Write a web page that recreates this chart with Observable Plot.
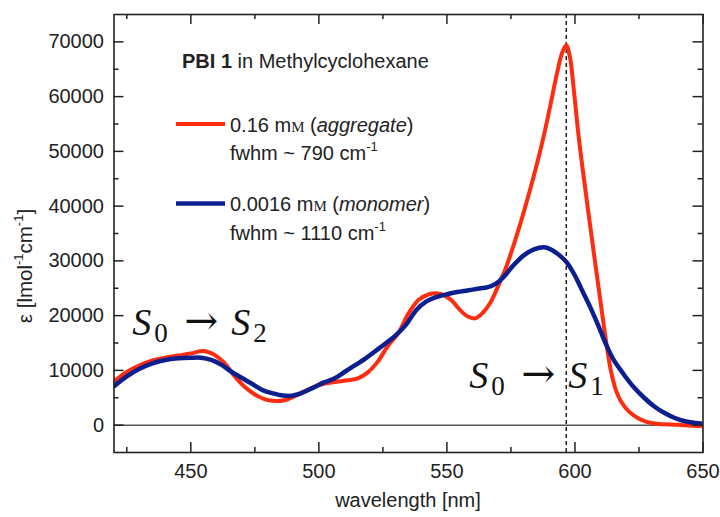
<!DOCTYPE html>
<html><head><meta charset="utf-8">
<script src="https://cdn.jsdelivr.net/npm/d3@7"></script>
<script src="https://cdn.jsdelivr.net/npm/@observablehq/plot@0.6"></script>
<style>
html,body{margin:0;padding:0;background:#fff;}
#chart{width:720px;height:517px;overflow:hidden;}
svg{display:block;}
</style></head><body><div id="chart"></div>
<script>
// ---- data ----
const aggWavelength = [420,425,430,435,440,445,450,455,459,463,467,471,475,479,483,487,491,495,500,505,510,515,519,523,527,531,535,539,543,546,549,552,555,558,561,564,567,570,573,576,579,582,585,588,591,593,595,596.6,598,599.5,601.5,604.5,607.5,610,612,614,616,618,621,624.5,628,632,640,650];
const aggEpsilon    = [8000,9700,10900,11800,12300,12700,13100,13550,12900,11400,9000,7000,5600,4700,4400,4600,5400,6300,7300,7800,8100,8500,9600,11600,14500,16800,20400,22900,23900,24100,23700,22700,21100,19900,19500,20500,22400,25400,28700,32800,37300,42200,47400,53200,59800,64300,68000,69400,67300,61500,52500,41500,31000,22500,15800,10000,6400,4300,2500,1300,600,250,50,-200];

const monWavelength = [420,425,430,435,440,445,450,454,458,462,466,470,474,478,482,486,490,494,498,502,506,510,514,518,522,526,530,534,538,542,546,550,554,558,562,566,569,572,576,580,584,588,591,594,597,600,603,606,609,612,615,619,623,627,631,635,639,643,647,650];
const monEpsilon    = [7100,8900,10300,11300,11900,12200,12300,12300,11900,11000,9700,8600,7500,6400,5800,5400,5400,6000,6900,7800,8500,9700,10900,12100,13500,14900,16400,18300,21000,22600,23400,23900,24300,24600,24900,25200,25800,27000,29200,31000,32100,32500,32000,31000,29600,27300,24400,21500,18300,14900,12000,9300,6900,5000,3400,2200,1300,700,400,250];

const s1Wavelength = [596.6];
const xMajorTicks = [450,500,550,600,650];
const xMinorTicks = [425,475,525,575,625];
const yMajorTicks = [0,10000,20000,30000,40000,50000,60000,70000];
const yMinorTicks = [5000,15000,25000,35000,45000,55000,65000];
const zeroLine = [0];

const seriesNames = ["aggregate","monomer"];
const labelS2 = {wavelength: 427.7, epsilon: 16300, upper: "2"};
const labelS1 = {wavelength: 559.3, epsilon: 6780, upper: "1"};

// ---- build ----
const agg = aggWavelength.map((w,i)=>({wavelength:w, epsilon:aggEpsilon[i], series:seriesNames[0]}));
const mon = monWavelength.map((w,i)=>({wavelength:w, epsilon:monEpsilon[i], series:seriesNames[1]}));

const W = 720, H = 517;
const mL = 113.5, mR = 17.5, mT = 14, mB = 65;
const innerW = W - mL - mR, innerH = H - mT - mB;
const FONT = "'Liberation Sans', Arial, Helvetica, sans-serif";
const RED = "#ff2d0f", BLUE = "#0c1f8e", INK = "#222";
const major = 10, minor = 5;

const plot = Plot.plot({
  width: W, height: H,
  marginLeft: mL, marginRight: mR, marginTop: mT, marginBottom: mB,
  style: {fontFamily: FONT, fontSize: "20px", color: INK, background: "#fff"},
  x: {domain: [420, 650], label: null},
  y: {domain: [-5000, 75000], label: null},
  marks: [
    Plot.ruleY(zeroLine, {stroke: "#555", strokeWidth: 1.5}),
    Plot.ruleX(s1Wavelength, {stroke: "#111", strokeWidth: 1.4, strokeDasharray: "4,3"}),
    Plot.line(agg, {x: "wavelength", y: "epsilon", stroke: RED, strokeWidth: 4, curve: "catmull-rom", clip: true}),
    Plot.line(mon, {x: "wavelength", y: "epsilon", stroke: BLUE, strokeWidth: 4.5, curve: "catmull-rom", clip: true}),
    // inward ticks, bottom & top
    Plot.ruleX(xMajorTicks, {stroke: INK, strokeWidth: 1.5, insetTop: innerH - major}),
    Plot.ruleX(xMinorTicks, {stroke: INK, strokeWidth: 1.5, insetTop: innerH - minor}),
    Plot.ruleX(xMajorTicks, {stroke: INK, strokeWidth: 1.5, insetBottom: innerH - major}),
    Plot.ruleX(xMinorTicks, {stroke: INK, strokeWidth: 1.5, insetBottom: innerH - minor}),
    // inward ticks, left & right
    Plot.ruleY(yMajorTicks, {stroke: INK, strokeWidth: 1.5, insetRight: innerW - major}),
    Plot.ruleY(yMinorTicks, {stroke: INK, strokeWidth: 1.5, insetRight: innerW - minor}),
    Plot.ruleY(yMajorTicks, {stroke: INK, strokeWidth: 1.5, insetLeft: innerW - major}),
    Plot.ruleY(yMinorTicks, {stroke: INK, strokeWidth: 1.5, insetLeft: innerW - minor}),
    Plot.frame({stroke: INK, strokeWidth: 1.6}),
    Plot.axisX({ticks: xMajorTicks, tickSize: 0, tickPadding: 11, label: null, tickFormat: d => String(d)}),
    Plot.axisY({ticks: yMajorTicks, tickSize: 0, tickPadding: 10, label: null, tickFormat: d => String(d)})
  ]
});
document.getElementById("chart").appendChild(plot);

const svg = d3.select(plot);
const xs = plot.scale("x"), ys = plot.scale("y");

// axis titles
const g = svg.append("g").attr("font-family", FONT).attr("fill", INK).attr("font-size", 20).attr("text-anchor", "middle");
g.append("text").attr("x", mL + innerW / 2).attr("y", 507).text("wavelength [nm]");
const yl = g.append("text").attr("transform", "translate(31.5,266) rotate(-90)").attr("font-size", 20.5);
yl.append("tspan").text("ε [lmol");
yl.append("tspan").attr("font-size", 13).attr("dy", -9).text("-1");
yl.append("tspan").attr("dy", 9).text("cm");
yl.append("tspan").attr("font-size", 13).attr("dy", -9).text("-1");
yl.append("tspan").attr("dy", 9).text("]");

// legend
const lg = svg.append("g").attr("font-family", FONT).attr("fill", INK).attr("font-size", 20).attr("text-anchor", "start");
const t0 = lg.append("text").attr("x", 182).attr("y", 68);
t0.append("tspan").attr("font-weight", "bold").text("PBI 1");
t0.append("tspan").text(" in Methylcyclohexane");

function entry(y, color, conc, name, fwhm) {
  lg.append("line").attr("x1", 176).attr("x2", 225).attr("y1", y).attr("y2", y)
    .attr("stroke", color).attr("stroke-width", color === RED ? 4 : 4.5);
  const a = lg.append("text").attr("x", 230).attr("y", y + 7.5);
  a.append("tspan").text(conc + " m");
  a.append("tspan").attr("font-family", "'Liberation Serif', serif").attr("font-size", 15).text("M");
  a.append("tspan").text(" (");
  a.append("tspan").attr("font-style", "italic").text(name);
  a.append("tspan").text(")");
  const b = lg.append("text").attr("x", 230).attr("y", y + 36);
  b.append("tspan").text("fwhm ~ " + fwhm + " cm");
  b.append("tspan").attr("font-size", 13).attr("dy", -9).text("-1");
}
entry(124, RED, "0.16", "aggregate", "790");
entry(203.5, BLUE, "0.0016", "monomer", "1110");

// transition labels
function trans(lab) {
  const x0 = xs.apply(lab.wavelength), y0 = ys.apply(lab.epsilon);
  const tg = svg.append("g").attr("fill", "#111").attr("text-anchor", "start");
  const S = (x) => tg.append("text").attr("x", x0 + x).attr("y", y0)
      .attr("font-family", "'Liberation Serif', 'DejaVu Serif', serif").attr("font-style", "italic")
      .attr("font-size", 38).text("S");
  const sub = (x, t) => tg.append("text").attr("x", x0 + x).attr("y", y0 + 7)
      .attr("font-family", "'Liberation Serif', 'DejaVu Serif', serif").attr("font-size", 27).text(t);
  S(-1); sub(21, "0");
  tg.append("text").attr("x", x0 + 51).attr("y", y0 - 1).attr("font-family", "'DejaVu Serif', serif")
    .attr("font-size", 40).attr("textLength", 34).attr("lengthAdjust", "spacingAndGlyphs").text("→");
  S(98); sub(120, lab.upper);
}
trans(labelS2);
trans(labelS1);
</script></body></html>
